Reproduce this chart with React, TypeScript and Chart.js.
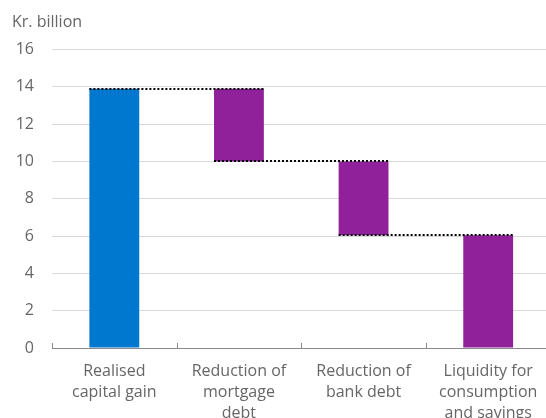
import React, { useEffect, useRef } from "react";
import { Chart, registerables } from "chart.js";

Chart.register(...registerables);

const categories: string[][] = [
  ["Realised", "capital gain"],
  ["Reduction of", "mortgage", "debt"],
  ["Reduction of", "bank debt"],
  ["Liquidity for", "consumption", "and savings"],
];
const barStart: number[] = [0, 10.0, 6.05, 0];
const barEnd: number[] = [13.9, 13.9, 10.0, 6.05];
const barColors: string[] = ["#0078cf", "#91219a", "#91219a", "#91219a"];
const yTicks: number[] = [0, 2, 4, 6, 8, 10, 12, 14, 16];
const unitLabel = "Kr. billion";

const FONT = "'Open Sans', sans-serif";
const TEXT = "#666666";

const waterfallPlugin = {
  id: "waterfallExtras",
  afterDatasetsDraw(chart: any) {
    const { ctx, scales } = chart;
    const meta = chart.getDatasetMeta(0);
    const y = scales.y;
    ctx.save();
    ctx.strokeStyle = "#000";
    ctx.lineWidth = 2;
    ctx.setLineDash([2, 2]);
    for (let i = 0; i < meta.data.length - 1; i++) {
      const a = meta.data[i];
      const b = meta.data[i + 1];
      const level = barEnd[i + 1];
      const py = Math.round(y.getPixelForValue(level));
      ctx.beginPath();
      ctx.moveTo(a.x - a.width / 2, py);
      ctx.lineTo(b.x + b.width / 2, py);
      ctx.stroke();
    }
    ctx.restore();
  },
  afterDraw(chart: any) {
    const { ctx, chartArea } = chart;
    ctx.save();
    ctx.strokeStyle = "#8a8a8a";
    ctx.lineWidth = 1;
    const n = categories.length;
    const w = (chartArea.right - chartArea.left) / n;
    for (let k = 0; k < n; k++) {
      const px = Math.round(chartArea.left + k * w) + 0.5;
      ctx.beginPath();
      ctx.moveTo(px, chartArea.bottom);
      ctx.lineTo(px, chartArea.bottom - 5);
      ctx.stroke();
    }
    ctx.fillStyle = TEXT;
    ctx.font = `16px ${FONT}`;
    ctx.textAlign = "left";
    ctx.textBaseline = "alphabetic";
    ctx.fillText(unitLabel, 12, 27);
    ctx.restore();
  },
};

export default function App() {
  const ref = useRef<HTMLCanvasElement | null>(null);
  useEffect(() => {
    if (!ref.current) return;
    const chart = new Chart(ref.current, {
      type: "bar",
      data: {
        labels: categories,
        datasets: [
          {
            data: barStart.map((s, i) => [s, barEnd[i]]),
            backgroundColor: barColors,
            borderWidth: 0,
            barPercentage: 0.4,
            categoryPercentage: 1,
          },
        ],
      },
      options: {
        animation: false,
        responsive: false,
        maintainAspectRatio: false,
        layout: { padding: { left: 12, right: 1.5, top: 49.5, bottom: 0 } },
        plugins: {
          legend: { display: false },
          tooltip: { enabled: false },
          title: { display: false },
        },
        scales: {
          x: {
            grid: { display: false, drawTicks: false },
            border: { display: true, color: "#8a8a8a", width: 1 },
            ticks: {
              color: TEXT,
              font: { family: FONT, size: 16, lineHeight: "21px" as any },
              padding: 13,
              maxRotation: 0,
              autoSkip: false,
            },
            afterFit(axis: any) {
              axis.height = 70;
            },
          },
          y: {
            min: 0,
            max: 16,
            afterBuildTicks(axis: any) {
              axis.ticks = yTicks.map((v) => ({ value: v }));
            },
            grid: {
              drawTicks: false,
              color: (c: any) => (c.tick && c.tick.value === 0 ? "#8a8a8a" : "#d9d9d9"),
              lineWidth: 1,
            },
            border: { display: false },
            ticks: {
              color: TEXT,
              font: { family: FONT, size: 16 },
              padding: 18,
            },
            afterFit(axis: any) {
              axis.width = 40;
            },
          },
        },
      },
      plugins: [waterfallPlugin],
    });
    return () => chart.destroy();
  }, []);
  return (
    <div
      style={{
        position: "fixed",
        left: 0,
        top: 0,
        width: 546,
        height: 418,
        overflow: "hidden",
        background: "#fff",
      }}
    >
      <canvas ref={ref} width={552} height={418} style={{ display: "block" }} />
    </div>
  );
}
